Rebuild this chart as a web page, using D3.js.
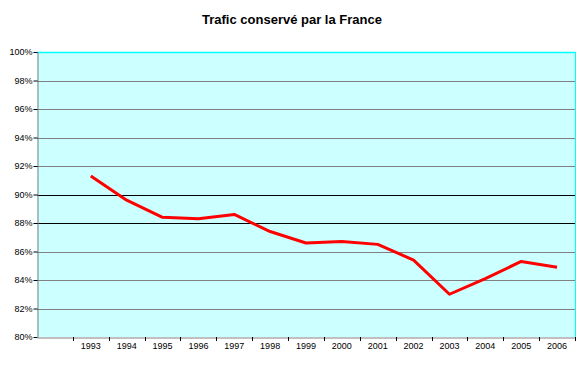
<!DOCTYPE html>
<html><head><meta charset="utf-8">
<script src="https://cdn.jsdelivr.net/npm/d3@7"></script>
<style>body{margin:0;background:#fff}svg{display:block}</style>
</head><body>
<script>
const title = "Trafic conservé par la France";
const categories = ["", "1993","1994","1995","1996","1997","1998","1999","2000","2001","2002","2003","2004","2005","2006"];
const years = ["1993","1994","1995","1996","1997","1998","1999","2000","2001","2002","2003","2004","2005","2006"];
const values = [0.913, 0.896, 0.884, 0.883, 0.886, 0.874, 0.866, 0.867, 0.865, 0.854, 0.830, 0.841, 0.853, 0.849];
const yTicks = [0.80,0.82,0.84,0.86,0.88,0.90,0.92,0.94,0.96,0.98,1.00];
const darkGrid = [0.88, 0.90];

const W = 585, H = 365;
const m = {left: 37, right: 10, top: 52, bottom: 28};
const svg = d3.select("body").append("svg").attr("width", W).attr("height", H);
const x = d3.scaleBand().domain(categories).range([m.left, W - m.right]).paddingInner(0).paddingOuter(0);
const y = d3.scaleLinear().domain([0.80, 1.00]).range([H - m.bottom, m.top]);

svg.append("rect").attr("x", m.left).attr("y", m.top)
  .attr("width", W - m.right - m.left).attr("height", H - m.bottom - m.top)
  .attr("fill", "#CCFFFF");

// gridlines
svg.append("g").selectAll("line").data(yTicks.filter(d => d > 0.80 && d < 1.00)).join("line")
  .attr("x1", m.left).attr("x2", W - m.right)
  .attr("y1", d => Math.round(y(d)) + 0.5).attr("y2", d => Math.round(y(d)) + 0.5)
  .attr("stroke", d => darkGrid.some(g => Math.abs(g - d) < 1e-9) ? "#000" : "#808080")
  .attr("stroke-width", 1);

// cyan border top & right
svg.append("line").attr("x1", m.left).attr("x2", W - m.right + 0.5)
  .attr("y1", Math.round(y(1.0)) + 0.5).attr("y2", Math.round(y(1.0)) + 0.5)
  .attr("stroke", "#00FFFF").attr("stroke-width", 1.5);
svg.append("line").attr("x1", W - m.right + 0.5).attr("x2", W - m.right + 0.5)
  .attr("y1", m.top).attr("y2", H - m.bottom)
  .attr("stroke", "#00FFFF").attr("stroke-width", 1);

// y axis
const yAxis = d3.axisLeft(y).tickValues(yTicks).tickFormat(d3.format(".0%")).tickSize(4).tickSizeOuter(0);
const gy = svg.append("g").attr("transform", `translate(${m.left + 0.5},0)`).call(yAxis);
gy.select(".domain").attr("stroke", "#808080");
gy.selectAll(".tick line").attr("stroke", "#000");
gy.selectAll(".tick text").attr("font-family", "Liberation Sans, Arial, sans-serif").attr("font-size", 9).attr("fill", "#000").attr("x", -5);

// x axis
const xAxis = d3.axisBottom(x).tickSize(0).tickSizeOuter(0);
const gx = svg.append("g").attr("transform", `translate(0,${H - m.bottom + 0.5})`).call(xAxis);
gx.select(".domain").attr("stroke", "#808080");
gx.selectAll(".tick text").attr("font-family", "Liberation Sans, Arial, sans-serif").attr("font-size", 9).attr("fill", "#000").attr("dy", "0.71em").attr("y", 5);
// category separator ticks
svg.append("g").selectAll("line").data(categories.slice(1).concat(["__end"])).join("line")
  .attr("x1", d => Math.round(d === "__end" ? x.range()[1] : x(d)) + 0.5)
  .attr("x2", d => Math.round(d === "__end" ? x.range()[1] : x(d)) + 0.5)
  .attr("y1", H - m.bottom).attr("y2", H - m.bottom + 4)
  .attr("stroke", "#000");

// line
const line = d3.line().x((d, i) => x(years[i]) + x.bandwidth() / 2).y(d => y(d));
svg.append("path").datum(values).attr("d", line)
  .attr("fill", "none").attr("stroke", "#FF0000").attr("stroke-width", 3).attr("stroke-linejoin", "round");

svg.append("text").attr("x", 292).attr("y", 24).attr("text-anchor", "middle")
  .attr("font-family", "Liberation Sans, Arial, sans-serif").attr("font-weight", "bold").attr("font-size", 13)
  .text(title);
</script>
</body></html>
